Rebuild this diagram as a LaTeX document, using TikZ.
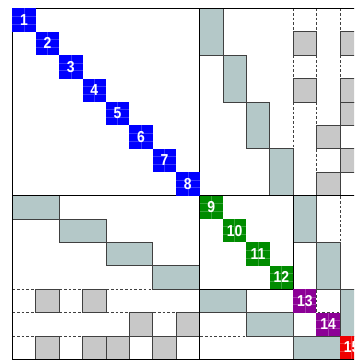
\documentclass[tikz,border=0pt]{standalone}
\usepackage{fontspec}
\setmainfont{Liberation Sans}
\newfontfamily\blocknum[FakeStretch=0.88]{Liberation Sans}
\usepackage{xcolor}
\usepackage{tikz}

\definecolor{couple}{RGB}{180,200,200}
\definecolor{sepfill}{RGB}{200,200,200}
\definecolor{dblue}{RGB}{0,0,255}
\definecolor{dgreen}{RGB}{0,140,0}
\definecolor{dpurple}{RGB}{140,0,150}
\definecolor{dred}{RGB}{240,0,0}

\tikzset{
  cpl/.style={fill=couple,draw=black!75,line width=0.6pt},
  sep/.style={fill=sepfill,draw=black!75,line width=0.6pt},
  sepline/.style={draw=black!75,line width=0.6pt,dash pattern=on 2.2pt off 1.8pt},
  blklabel/.style={text=white,font=\blocknum\bfseries\fontsize{13.5}{14}\selectfont,inner sep=0pt}
}

\begin{document}
\begin{tikzpicture}[x=0.7cm,y=-0.7cm,line width=0.6pt]
  \useasboundingbox (-0.526,-0.355) rectangle (14.603,15.03);
  \clip (-0.526,-0.355) rectangle (14.603,15.03);
  % separator rows and columns
  \foreach \k in {12,13,14} {
    \draw[sepline] (\k,0) -- (\k,15);
    \draw[sepline] (0,\k) -- (15,\k);
  }
  % couplings
  \foreach \c in {0,1,2,3} {
    \draw[cpl] (8+\c,2*\c) rectangle ++(1,2);
    \draw[cpl] (2*\c,8+\c) rectangle ++(2,1);
  }
  \foreach \c in {0,1} {
    \draw[cpl] (12+\c,8+2*\c) rectangle ++(1,2);
    \draw[cpl] (8+2*\c,12+\c) rectangle ++(2,1);
  }
  \draw[cpl] (14,12) rectangle ++(1,2);
  \draw[cpl] (12,14) rectangle ++(2,1);
  % single entries
  \foreach \k/\r in {12/1,12/3,13/5,13/7,14/1,14/3,14/4,14/6} {
    \draw[sep] (\k,\r) rectangle ++(1,1);
    \draw[sep] (\r,\k) rectangle ++(1,1);
  }
  % partition
  \draw[line width=0.8pt] (0,0) rectangle (15,15);
  \draw (8,0) -- (8,15) (0,8) -- (15,8);
  \draw (8,8) rectangle (12,12);
  % diagonal blocks
  \foreach \i/\c in {1/dblue,2/dblue,3/dblue,4/dblue,5/dblue,6/dblue,7/dblue,8/dblue,
                     9/dgreen,10/dgreen,11/dgreen,12/dgreen,13/dpurple,14/dpurple,15/dred} {
    \fill[\c] (\i-1,\i-1) rectangle ++(1,1);
    \draw[white,opacity=0.22,line width=0.4pt] (\i-0.5,\i-1) -- ++(0,1)
      (\i-1,\i-2/3) -- ++(1,0) (\i-1,\i-1/3) -- ++(1,0);
    \node[blklabel] (d\i) at (\i-0.5,\i-0.5) {\i};
  }
\end{tikzpicture}
\end{document}
